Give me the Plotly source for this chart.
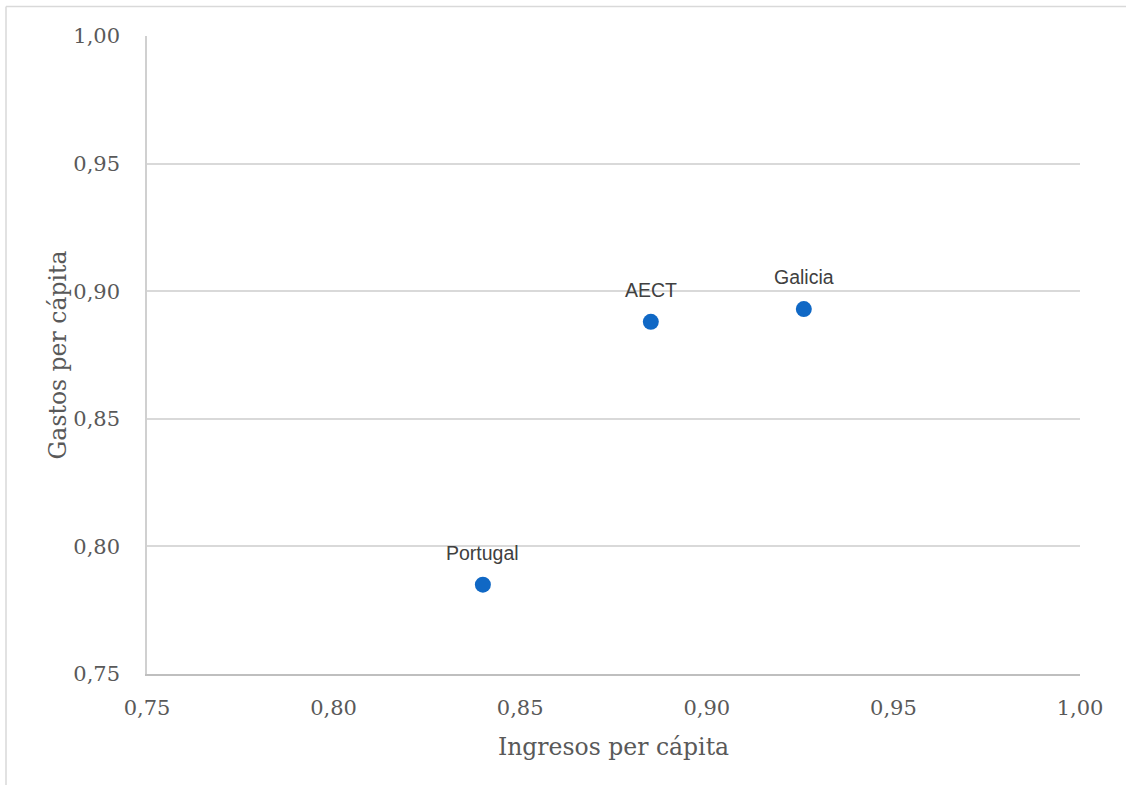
import plotly.graph_objects as go

names = ["Portugal", "AECT", "Galicia"]
ingresos = [0.84, 0.885, 0.926]
gastos = [0.785, 0.888, 0.893]
tick_vals = [0.75, 0.80, 0.85, 0.90, 0.95, 1.00]

fig = go.Figure()
fig.add_trace(go.Scatter(
    x=ingresos, y=gastos, mode="markers",
    marker=dict(size=16, color="#1068c5"),
    hoverinfo="skip", showlegend=False,
))

for n, xv, yv in zip(names, ingresos, gastos):
    fig.add_annotation(x=xv, y=yv, text=n, showarrow=False, yshift=32,
                       font=dict(family="Liberation Sans Narrow, Liberation Sans, Arial", size=19.5, color="#404040"))

serif = "DejaVu Serif, Liberation Serif, serif"
L, R, T, B = 147, 46, 36, 111
W, H = 1126, 785
pw, ph = W - L - R, H - T - B

fig.update_layout(
    width=W, height=H,
    margin=dict(l=L, r=R, t=T, b=B),
    paper_bgcolor="white", plot_bgcolor="white",
    separators=",.",
    xaxis=dict(range=[0.75, 1.0], tickvals=tick_vals, tickformat=".2f",
               showgrid=False, zeroline=False, showline=True,
               linecolor="#bfbfbf", linewidth=1.5, ticks="",
               ticklabelstandoff=14,
               tickfont=dict(family=serif, size=21, color="#595959"),
               title=dict(text="Ingresos per cápita", standoff=20,
                          font=dict(family=serif, size=23.5, color="#595959"))),
    yaxis=dict(range=[0.75, 1.0], tickvals=tick_vals, tickformat=".2f",
               showgrid=True, gridcolor="#d9d9d9", gridwidth=1.5,
               zeroline=False, showline=True,
               linecolor="#d0d0d0", linewidth=1.5, ticks="",
               ticklabelstandoff=21,
               tickfont=dict(family=serif, size=21, color="#595959"),
               title=dict(text="Gastos per cápita", standoff=0,
                          font=dict(family=serif, size=23.5, color="#595959"))),
    shapes=[
        dict(type="line", xref="paper", yref="paper",
             x0=(6 - L) / pw, x1=(W + 10 - L) / pw,
             y0=(H - B - 6.5) / ph, y1=(H - B - 6.5) / ph,
             line=dict(color="#d9d9d9", width=1.5)),
        dict(type="line", xref="paper", yref="paper",
             x0=(6 - L) / pw, x1=(6 - L) / pw,
             y0=(H - B - 6.5) / ph, y1=-(B + 10) / ph,
             line=dict(color="#d9d9d9", width=1.5)),
    ],
)

fig.write_html("out.html", config={"displayModeBar": False},
               post_script="document.body.style.margin='0';document.body.style.overflow='hidden';")
